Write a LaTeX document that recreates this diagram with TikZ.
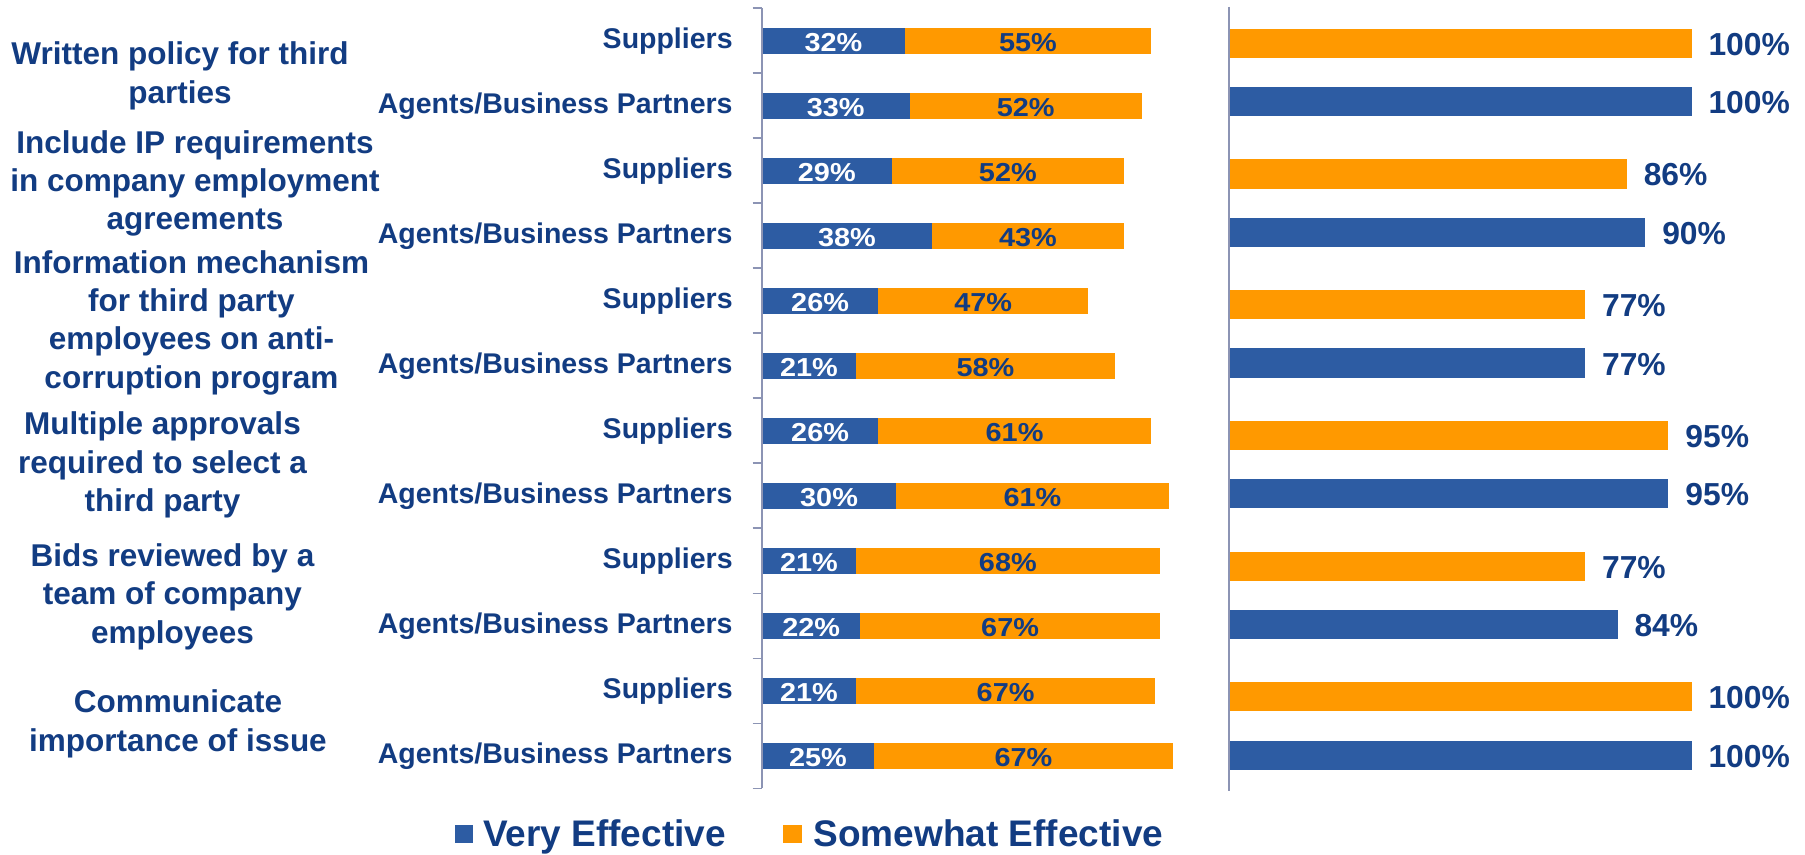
\documentclass[tikz,border=0pt]{standalone}
\usepackage{fontspec}
\setmainfont{Liberation Sans}
\newfontfamily\valfont[FakeStretch=1.11]{Liberation Sans}
\definecolor{navy}{HTML}{123C82}
\definecolor{barblue}{HTML}{2D5CA3}
\definecolor{barorange}{HTML}{FF9900}
\definecolor{axisgray}{HTML}{8C94B4}
\begin{document}
\begin{tikzpicture}[x=0.5pt,y=-0.5pt,
  cat/.style={inner sep=0pt, anchor=base, text=navy, font=\fontsize{15.75pt}{19.15pt}\selectfont\bfseries},
  sub/.style={inner sep=0pt, anchor=base east, text=navy, font=\fontsize{14.25pt}{17pt}\selectfont\bfseries},
  val/.style={inner sep=0pt, anchor=base, font=\valfont\fontsize{13pt}{15pt}\selectfont\bfseries},
  rval/.style={inner sep=0pt, anchor=base west, text=navy, font=\fontsize{15.9pt}{18pt}\selectfont\bfseries},
  leg/.style={inner sep=0pt, anchor=base west, text=navy, font=\fontsize{18.5pt}{21pt}\selectfont\bfseries},
  axisline/.style={draw=axisgray, line width=0.8pt}]
\useasboundingbox[fill=white] (0,0) rectangle (1805,855);

% category labels
\node[cat] (c1) at (180,65) {\begin{tabular}[t]{@{}c@{}}Written policy for third\\parties\end{tabular}};
\node[cat] (c2) at (195,153.3) {\begin{tabular}[t]{@{}c@{}}Include IP requirements\\in company employment\\agreements\end{tabular}};
\node[cat] (c3) at (191.5,273.3) {\begin{tabular}[t]{@{}c@{}}Information mechanism\\for third party\\employees on anti-\\corruption program\end{tabular}};
\node[cat] (c4) at (162.5,435) {\begin{tabular}[t]{@{}c@{}}Multiple approvals\\required to select a\\third party\end{tabular}};
\node[cat] (c5) at (172.5,566.7) {\begin{tabular}[t]{@{}c@{}}Bids reviewed by a\\team of company\\employees\end{tabular}};
\node[cat] (c6) at (178,712.7) {\begin{tabular}[t]{@{}c@{}}Communicate\\importance of issue\end{tabular}};

% sub labels
\foreach \i in {0,2,...,10} {
  \node[sub] (s\i) at (733,{40.8+65*\i+7.5}) {Suppliers};
}
\foreach \i in {1,3,...,11} {
  \node[sub] (s\i) at (733,{40.8+65*\i+7.5}) {Agents/Business Partners};
}

% left stacked bars
\foreach \a/\b [count=\i from 0] in {32/55,33/52,29/52,38/43,26/47,21/58,26/61,30/61,21/68,22/67,21/67,25/67} {
  \pgfmathsetmacro\cy{40.8+65*\i}
  \pgfmathsetmacro\xa{762+4.47*\a}
  \pgfmathsetmacro\xb{\xa+4.47*\b}
  \fill[barblue] (762,{\cy-12.9}) rectangle (\xa,{\cy+12.9});
  \fill[barorange] (\xa,{\cy-12.9}) rectangle (\xb,{\cy+12.9});
  \node[val,text=white] (va\i) at ({(762+\xa)/2},{\cy+10.5}) {\a\%};
  \node[val,text=navy] (vb\i) at ({(\xa+\xb)/2},{\cy+10.5}) {\b\%};
}

% left axis
\draw[axisline] (762,8.3) -- (762,787.7);
\foreach \k in {0,...,12} {
  \draw[axisline] (752.5,{8.3+65*\k}) -- (762,{8.3+65*\k});
}

% right bars
\foreach \s/\g [count=\k from 0] in {100/100,86/90,77/77,95/95,77/84,100/100} {
  \pgfmathsetmacro\cs{43.3+130.7*\k}
  \pgfmathsetmacro\cg{101.7+130.7*\k}
  \pgfmathsetmacro\xs{1229+4.626*\s}
  \pgfmathsetmacro\xg{1229+4.626*\g}
  \fill[barorange] (1229,{\cs-14.6}) rectangle (\xs,{\cs+14.6});
  \fill[barblue] (1229,{\cg-14.6}) rectangle (\xg,{\cg+14.6});
  \node[rval] (rs\k) at ({\xs+16.5},{\cs+12}) {\s\%};
  \node[rval] (rg\k) at ({\xg+16.5},{\cg+12}) {\g\%};
}
\draw[axisline] (1229,7) -- (1229,791);

% legend
\fill[barblue] (455,825) rectangle (473.3,843.3);
\node[leg] (l1) at (482.7,846) {Very Effective};
\fill[barorange] (783.3,825) rectangle (801.7,843.3);
\node[leg] (l2) at (813.3,846) {Somewhat Effective};
\end{tikzpicture}
\end{document}
